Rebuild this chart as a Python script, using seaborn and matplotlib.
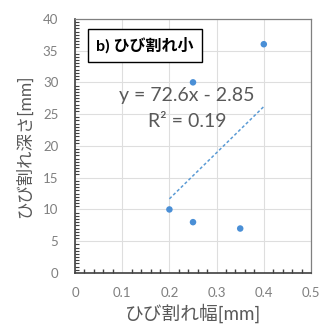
import numpy as np
import pandas as pd
import matplotlib
matplotlib.use("Agg")
import matplotlib.pyplot as plt
import seaborn as sns
from matplotlib.ticker import MultipleLocator, FuncFormatter

# data
crack_width = [0.2, 0.25, 0.25, 0.35, 0.4]
crack_depth = [10, 8, 30, 7, 36]
slope = 72.6
intercept = -2.85
r2 = 0.19
title_text = "b) ひび割れ小"
xlabel = "ひび割れ幅[mm]"
ylabel = "ひび割れ深さ[mm]"

sns.set_theme(style="white")
plt.rcParams['font.family'] = ['Lato', 'Noto Sans CJK JP', 'DejaVu Sans']

df = pd.DataFrame({"w": crack_width, "d": crack_depth})
xs = np.array([min(crack_width), max(crack_width)])
trend = pd.DataFrame({"w": xs, "d": slope * xs + intercept})

fig = plt.figure(figsize=(3.31, 3.28), dpi=100)
ax = fig.add_axes([0.2266, 0.1677, 0.713, 0.775])

ax.grid(True, which="major", color="#dedede", linewidth=0.8, zorder=0)
ax.set_axisbelow(True)

sns.lineplot(data=trend, x="w", y="d", ax=ax, color="#5b9bd5",
             linestyle=(0, (2, 1.5)), linewidth=1.1)
sns.scatterplot(data=df, x="w", y="d", ax=ax, color="#4a8fd6", s=22,
                edgecolor="none", zorder=3)

ax.set_xlim(0, 0.5)
ax.set_ylim(0, 40)
ax.xaxis.set_major_locator(MultipleLocator(0.1))
ax.yaxis.set_major_locator(MultipleLocator(5))
ax.xaxis.set_minor_locator(MultipleLocator(0.02))
ax.yaxis.set_minor_locator(MultipleLocator(0.5))
ax.xaxis.set_major_formatter(FuncFormatter(lambda v, p: f"{round(v, 1):g}"))

ax.tick_params(axis="both", which="major", labelsize=9.5, labelcolor="#7f7f7f",
               length=0)
ax.tick_params(axis="y", which="major", pad=12)
ax.tick_params(axis="x", which="major", pad=10)
ax.tick_params(axis="x", which="minor", direction="in", length=3,
               width=1, color="#404040", bottom=True)
ax.tick_params(axis="y", which="minor", direction="in", length=3,
               width=0.8, color="#404040", left=True)

for side in ["left", "bottom"]:
    ax.spines[side].set_color("#404040")
    ax.spines[side].set_linewidth(1.2)
for side in ["top", "right"]:
    ax.spines[side].set_color("#808080")
    ax.spines[side].set_linewidth(0.9)

ax.set_xlabel(xlabel, fontsize=13.5, color="#595959", labelpad=3)
ax.set_ylabel(ylabel, fontsize=12.5, color="#595959", labelpad=7)

ax.text(0.237, 27.9, f"y = {slope}x - {abs(intercept)}", ha="center", va="center",
        fontsize=14, color="#595959")
ax.text(0.237, 23.9, f"R² = {r2}", ha="center", va="center",
        fontsize=14, color="#595959")

ax.text(0.045, 35.8, title_text, ha="left", va="center", fontsize=11.5,
        fontweight="bold", color="black",
        bbox=dict(boxstyle="square,pad=0.5", facecolor="white",
                  edgecolor="black", linewidth=1))

fig.savefig("out.png", dpi=100)
